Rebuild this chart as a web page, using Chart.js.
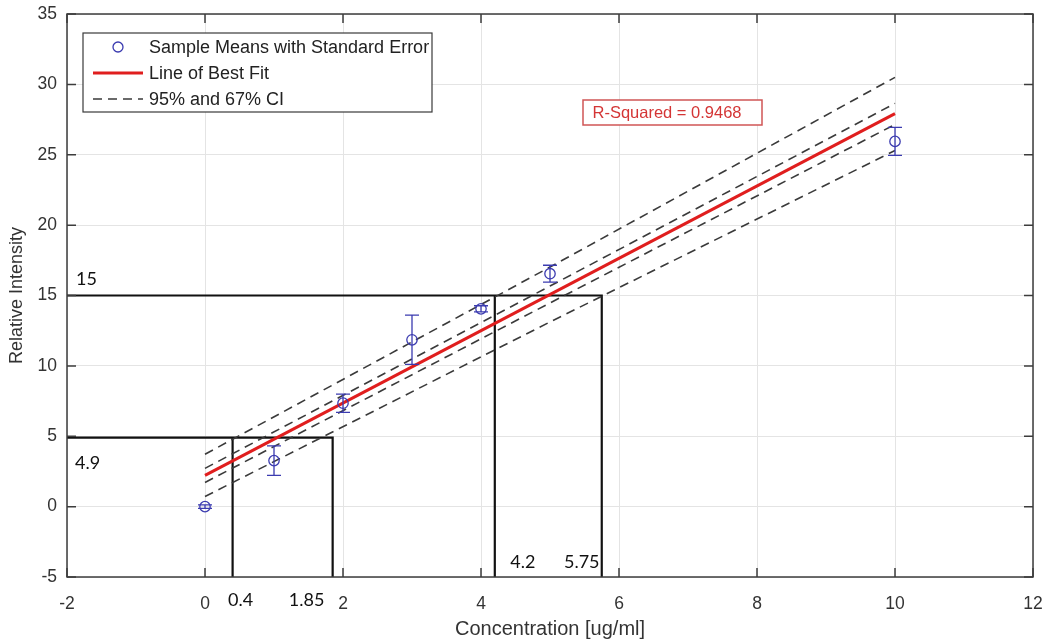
<!DOCTYPE html>
<html>
<head>
<meta charset="utf-8">
<script src="https://cdn.jsdelivr.net/npm/chart.js@4.4.1/dist/chart.umd.min.js"></script>
<style>
  html, body { margin: 0; padding: 0; background: #ffffff; overflow: hidden; }
  canvas { display: block; }
</style>
</head>
<body>
<canvas id="chart" width="1049" height="643"></canvas>
<script>
// Calibration samples: concentration, mean relative intensity and standard error
const concentrations = [0, 1, 2, 3, 4, 5, 10];
const sampleMeans = [0, 3.27, 7.35, 11.85, 14.05, 16.55, 25.95];
const standardErrors = [0.12, 1.05, 0.65, 1.75, 0.22, 0.6, 1.0];

// Least-squares line
const fitX = [0, 10];
const fitY = [2.22, 27.92];
const rSquared = 0.9468;

// Confidence bands (95% outer, 67% inner)
const bandX = [0, 5, 10];
const upper95 = [3.72, 17.02, 30.5];
const upper67 = [2.72, 15.67, 28.65];
const lower67 = [1.72, 14.47, 27.15];
const lower95 = [0.72, 13.12, 25.3];

// Read-back of two intensities against the outer band
const readIntensity = [15, 4.9];
const readLow = [4.2, 0.4];
const readHigh = [5.75, 1.85];

// Axis ticks
const xTicks = [-2, 0, 2, 4, 6, 8, 10, 12];
const yTicks = [-5, 0, 5, 10, 15, 20, 25, 30, 35];

const legendLabels = ['Sample Means with Standard Error', 'Line of Best Fit', '95% and 67% CI'];

const BLUE = '#3b3bb0';
const RED = '#e01e1e';
const DASH = '#3a3a3a';
const AXIS = '#3c3c3c';
const TEXT = '#333333';
const SANS = '"Liberation Sans", Arial, sans-serif';
const NOTE = 'Lato, "Open Sans", sans-serif';

const pts = (xs, ys) => xs.map((x, i) => ({ x: x, y: ys[i] }));

const datasets = [];

// read-back guide lines
readIntensity.forEach((level, i) => {
  datasets.push({
    data: [{ x: xTicks[0], y: level }, { x: readHigh[i], y: level }, { x: readHigh[i], y: yTicks[0] }],
    showLine: true, borderColor: '#111111', borderWidth: 2.2, pointRadius: 0, order: 5
  });
  datasets.push({
    data: [{ x: readLow[i], y: level }, { x: readLow[i], y: yTicks[0] }],
    showLine: true, borderColor: '#111111', borderWidth: 2.2, pointRadius: 0, order: 5
  });
});

[upper95, upper67, lower67, lower95].forEach((band, i) => {
  datasets.push({
    label: i === 0 ? legendLabels[2] : undefined,
    data: pts(bandX, band),
    showLine: true, borderColor: DASH, borderWidth: 1.6, borderDash: [9, 6],
    pointRadius: 0, order: 3
  });
});

datasets.push({
  label: legendLabels[1],
  data: pts(fitX, fitY),
  showLine: true, borderColor: RED, borderWidth: 3, pointRadius: 0, order: 2
});

datasets.push({
  label: legendLabels[0],
  data: pts(concentrations, sampleMeans),
  showLine: false, pointStyle: 'circle', pointRadius: 5.2,
  pointBorderColor: BLUE, pointBackgroundColor: 'rgba(0,0,0,0)', pointBorderWidth: 1.3,
  errors: standardErrors, order: 1
});

// error bars around the sample means
const errorBars = {
  id: 'errorBars',
  afterDatasetsDraw(chart) {
    const { ctx, scales: { x, y } } = chart;
    chart.data.datasets.forEach(ds => {
      if (!ds.errors) return;
      ctx.save();
      ctx.strokeStyle = BLUE;
      ctx.lineWidth = 1.3;
      ds.data.forEach((p, i) => {
        const px = x.getPixelForValue(p.x);
        const top = y.getPixelForValue(p.y + ds.errors[i]);
        const bot = y.getPixelForValue(p.y - ds.errors[i]);
        ctx.beginPath();
        ctx.moveTo(px, top); ctx.lineTo(px, bot);
        ctx.moveTo(px - 7, top); ctx.lineTo(px + 7, top);
        ctx.moveTo(px - 7, bot); ctx.lineTo(px + 7, bot);
        ctx.stroke();
      });
      ctx.restore();
    });
  }
};

// axes box with inward tick marks on all four sides
const boxAxes = {
  id: 'boxAxes',
  afterDraw(chart) {
    const { ctx, chartArea: a, scales: { x, y } } = chart;
    ctx.save();
    ctx.strokeStyle = AXIS;
    ctx.lineWidth = 1.5;
    ctx.strokeRect(a.left, a.top, a.right - a.left, a.bottom - a.top);
    const t = 9;
    ctx.beginPath();
    xTicks.forEach(v => {
      const px = x.getPixelForValue(v);
      ctx.moveTo(px, a.bottom); ctx.lineTo(px, a.bottom - t);
      ctx.moveTo(px, a.top); ctx.lineTo(px, a.top + t);
    });
    yTicks.forEach(v => {
      const py = y.getPixelForValue(v);
      ctx.moveTo(a.left, py); ctx.lineTo(a.left + t, py);
      ctx.moveTo(a.right, py); ctx.lineTo(a.right - t, py);
    });
    ctx.stroke();
    ctx.restore();
  }
};

// legend box, R-squared box and read-back value labels
const notes = {
  id: 'notes',
  afterDraw(chart) {
    const { ctx, chartArea: a, scales: { x, y } } = chart;
    ctx.save();

    // legend
    const lx = a.left + 16, ly = a.top + 19, lw = 349, lh = 79;
    ctx.fillStyle = '#ffffff';
    ctx.fillRect(lx, ly, lw, lh);
    ctx.strokeStyle = '#3a3a3a';
    ctx.lineWidth = 1.2;
    ctx.strokeRect(lx, ly, lw, lh);
    const rows = [ly + 14, ly + 40, ly + 66];
    const sx0 = lx + 10, sx1 = lx + 60, tx = lx + 66;
    ctx.strokeStyle = BLUE; ctx.lineWidth = 1.3;
    ctx.beginPath(); ctx.arc((sx0 + sx1) / 2, rows[0], 5, 0, Math.PI * 2); ctx.stroke();
    ctx.strokeStyle = RED; ctx.lineWidth = 3;
    ctx.beginPath(); ctx.moveTo(sx0, rows[1]); ctx.lineTo(sx1, rows[1]); ctx.stroke();
    ctx.strokeStyle = DASH; ctx.lineWidth = 1.6; ctx.setLineDash([9, 6]);
    ctx.beginPath(); ctx.moveTo(sx0, rows[2]); ctx.lineTo(sx1, rows[2]); ctx.stroke();
    ctx.setLineDash([]);
    ctx.fillStyle = '#222222';
    ctx.font = '18px ' + SANS;
    ctx.textAlign = 'left'; ctx.textBaseline = 'middle';
    legendLabels.forEach((txt, i) => ctx.fillText(txt, tx, rows[i] + 1));

    // R-squared
    ctx.strokeStyle = '#d05555'; ctx.lineWidth = 1.5;
    ctx.fillStyle = '#ffffff';
    ctx.fillRect(583, 100, 179, 25);
    ctx.strokeRect(583, 100, 179, 25);
    ctx.fillStyle = '#d43535';
    ctx.font = '16.5px ' + SANS;
    ctx.textAlign = 'center';
    ctx.fillText('R-Squared = ' + rSquared.toFixed(4), 667, 113);

    // read-back values
    ctx.fillStyle = '#111111';
    ctx.font = '18px ' + NOTE;
    ctx.textAlign = 'left';
    ctx.fillText(String(readIntensity[0]), a.left + 9, y.getPixelForValue(readIntensity[0]) - 16);
    ctx.fillText(String(readIntensity[1]), a.left + 8, y.getPixelForValue(readIntensity[1]) + 26);
    ctx.textAlign = 'center';
    ctx.fillText(String(readLow[0]), x.getPixelForValue(readLow[0]) + 28, a.bottom - 15);
    ctx.fillText(String(readHigh[0]), x.getPixelForValue(readHigh[0]) - 20, a.bottom - 15);
    ctx.fillText(String(readLow[1]), x.getPixelForValue(readLow[1]) + 8, a.bottom + 23);
    ctx.fillText(String(readHigh[1]), x.getPixelForValue(readHigh[1]) - 26, a.bottom + 23);
    ctx.restore();
  }
};

new Chart(document.getElementById('chart'), {
  type: 'scatter',
  data: { datasets: datasets },
  options: {
    responsive: false,
    animation: false,
    devicePixelRatio: 1,
    layout: { padding: { top: 14, right: 16, left: 0, bottom: 0 } },
    plugins: { legend: { display: false }, tooltip: { enabled: false } },
    scales: {
      x: {
        type: 'linear', min: -2, max: 12,
        afterBuildTicks: s => { s.ticks = xTicks.map(v => ({ value: v })); },
        afterFit: s => { s.height = 66; s.paddingLeft = 0; s.paddingRight = 0; },
        grid: { color: '#e4e4e4', lineWidth: 1, drawTicks: false },
        border: { display: false },
        ticks: { padding: 17, color: TEXT, font: { family: SANS, size: 17.5 } },
        title: { display: true, text: 'Concentration [ug/ml]', color: TEXT,
                 font: { family: SANS, size: 20 }, padding: { top: 0, bottom: 2 } }
      },
      y: {
        type: 'linear', min: -5, max: 35,
        afterBuildTicks: s => { s.ticks = yTicks.map(v => ({ value: v })); },
        afterFit: s => { s.width = 67; s.paddingTop = 0; s.paddingBottom = 0; },
        grid: { color: '#e4e4e4', lineWidth: 1, drawTicks: false },
        border: { display: false },
        ticks: { padding: 10, color: TEXT, font: { family: SANS, size: 17.5 } },
        title: { display: true, text: 'Relative Intensity', color: TEXT,
                 font: { family: SANS, size: 18 }, padding: { top: 6, bottom: 0 } }
      }
    }
  },
  plugins: [errorBars, boxAxes, notes]
});
</script>
</body>
</html>
